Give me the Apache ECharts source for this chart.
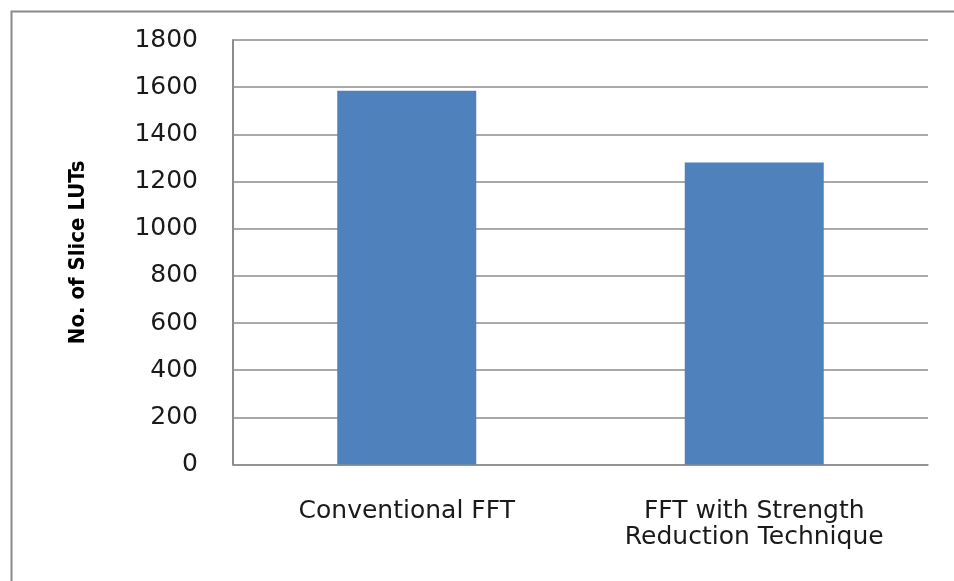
<!DOCTYPE html>
<html>
<head>
<meta charset="utf-8">
<script src="https://cdn.jsdelivr.net/npm/echarts@6/dist/echarts.min.js"></script>
<style>
  html, body { margin: 0; padding: 0; background: #fff; }
  #chart { width: 954px; height: 581px; }
</style>
</head>
<body>
<div id="chart"></div>
<script>
// Slice LUT usage of the two FFT implementations
var categories = ['Conventional FFT', 'FFT with Strength\nReduction Technique'];
var sliceLUTs = [1585, 1281];
var yTicks = { min: 0, max: 1800, interval: 200 };
var yAxisTitle = 'No. of Slice LUTs';

var chart = echarts.init(document.getElementById('chart'), null, { renderer: 'canvas' });

chart.setOption({
  animation: false,
  backgroundColor: '#ffffff',
  graphic: [{
    type: 'rect',
    left: 9, top: 9,
    shape: { width: 1000, height: 1000 },
    style: { fill: null, stroke: '#8a8a8a', lineWidth: 2 },
    silent: true
  }],
  grid: { left: 233, right: 26, top: 40, bottom: 116.5, containLabel: false },
  xAxis: {
    type: 'category',
    data: categories,
    axisLine: { lineStyle: { color: '#8c8c8c', width: 1.5 } },
    axisTick: { show: false },
    axisLabel: {
      color: '#1a1a1a',
      fontFamily: 'DejaVu Sans, Verdana, sans-serif',
      fontSize: 25,
      lineHeight: 26,
      margin: 34
    }
  },
  yAxis: {
    type: 'value',
    min: yTicks.min,
    max: yTicks.max,
    interval: yTicks.interval,
    name: yAxisTitle,
    nameLocation: 'middle',
    nameGap: 144,
    nameRotate: 90,
    nameTextStyle: {
      color: '#000',
      fontFamily: "'Liberation Sans Narrow', 'DejaVu Sans Condensed', 'Arial Narrow', sans-serif",
      fontWeight: 'bold',
      fontSize: 22
    },
    axisLine: { show: true, lineStyle: { color: '#8c8c8c', width: 2 } },
    axisTick: { show: false },
    splitLine: { lineStyle: { color: '#8c8c8c', width: 1.5 } },
    axisLabel: {
      color: '#1a1a1a',
      fontFamily: 'DejaVu Sans, Verdana, sans-serif',
      fontSize: 25,
      margin: 35,
      formatter: function (v) { return String(v); }
    }
  },
  series: [{
    type: 'bar',
    data: sliceLUTs,
    barWidth: '40%',
    itemStyle: { color: '#4f81bd' }
  }]
});
</script>
</body>
</html>
